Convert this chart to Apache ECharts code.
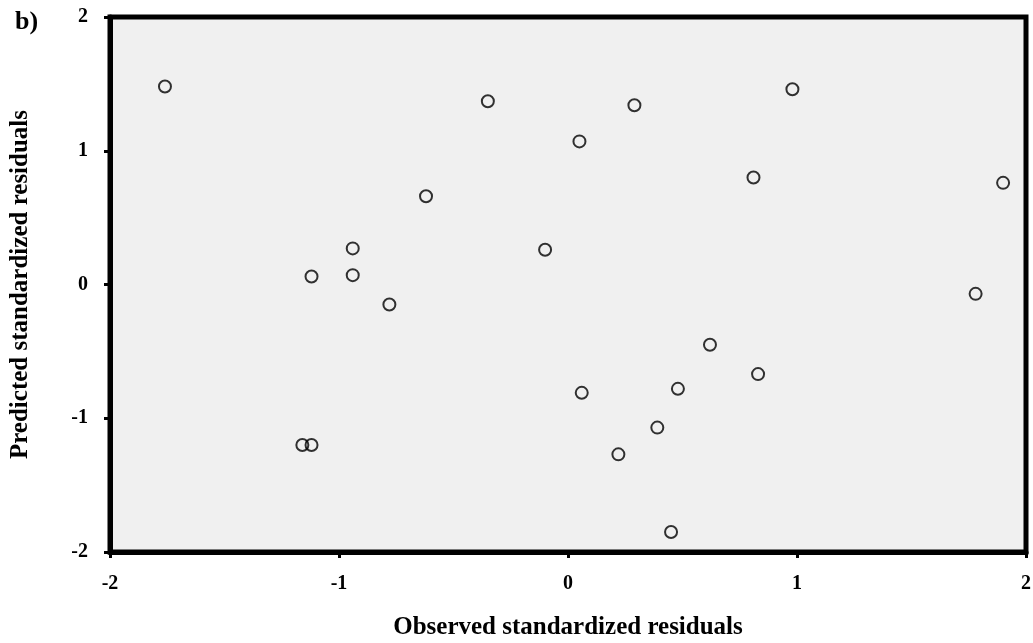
<!DOCTYPE html>
<html>
<head>
    <meta charset="utf-8">
    <title>Residuals b)</title>
    <script src="https://cdn.jsdelivr.net/npm/echarts@6/dist/echarts.min.js"></script>
    <style type="text/css">
        html, body { margin: 0; padding: 0; background: #fff; }
        #main { width: 1033px; height: 643px; }
    </style>
</head>
<body>
    <div id="main"></div>
    <script type="text/javascript">
        // observed vs predicted standardized residuals
        var observed = [-1.76, -0.35, 0.29, 0.98, 0.05, 0.81, 1.90, -0.62, -0.94, -0.10, -1.12,
                        -0.94, -0.78, 1.78, 0.62, 0.83, 0.06, 0.48, 0.39, -1.16, -1.12, 0.22, 0.45];
        var predicted = [1.48, 1.37, 1.34, 1.46, 1.07, 0.80, 0.76, 0.66, 0.27, 0.26, 0.06,
                         0.07, -0.15, -0.07, -0.45, -0.67, -0.81, -0.78, -1.07, -1.20, -1.20, -1.27, -1.85];
        var xName = 'Observed standardized residuals';
        var yName = 'Predicted standardized residuals';
        var panel = 'b)';

        var pts = observed.map(function (v, i) { return [v, predicted[i]]; });
        var font = 'Liberation Serif, Times New Roman, serif';

        var chart = echarts.init(document.getElementById('main'));
        var axisCommon = {
            min: -2, max: 2, interval: 1,
            nameLocation: 'middle',
            nameTextStyle: { fontFamily: font, fontWeight: 'bold', fontSize: 25, color: '#000' },
            axisLine: { show: true, onZero: false, lineStyle: { color: '#000', width: 5 } },
            axisTick: { show: true, length: 6, lineStyle: { color: '#000', width: 3 } },
            axisLabel: { fontFamily: font, fontWeight: 'bold', fontSize: 20, color: '#000' },
            splitLine: { show: false }
        };
        var option = {
            backgroundColor: '#fff',
            animation: false,
            title: {
                text: panel, left: 10, top: 4,
                textStyle: { fontFamily: font, fontWeight: 'bold', fontSize: 26, color: '#000' }
            },
            grid: {
                left: 110, top: 17, right: 7, bottom: 91,
                containLabel: false, outerBoundsMode: 'none',
                show: true, backgroundColor: '#f0f0f0',
                borderColor: '#000', borderWidth: 5
            },
            xAxis: Object.assign({}, axisCommon, {
                type: 'value', name: xName, nameGap: 63,
                axisLabel: Object.assign({}, axisCommon.axisLabel, { margin: 22 })
            }),
            yAxis: Object.assign({}, axisCommon, {
                type: 'value', name: yName, nameGap: 77,
                axisLabel: Object.assign({}, axisCommon.axisLabel, { margin: 22 })
            }),
            series: [{
                type: 'scatter',
                data: pts,
                symbol: 'circle',
                symbolSize: 12,
                itemStyle: { color: 'rgba(0,0,0,0)', borderColor: '#000', borderWidth: 2 }
            }]
        };
        chart.setOption(option);
    </script>
</body>
</html>
